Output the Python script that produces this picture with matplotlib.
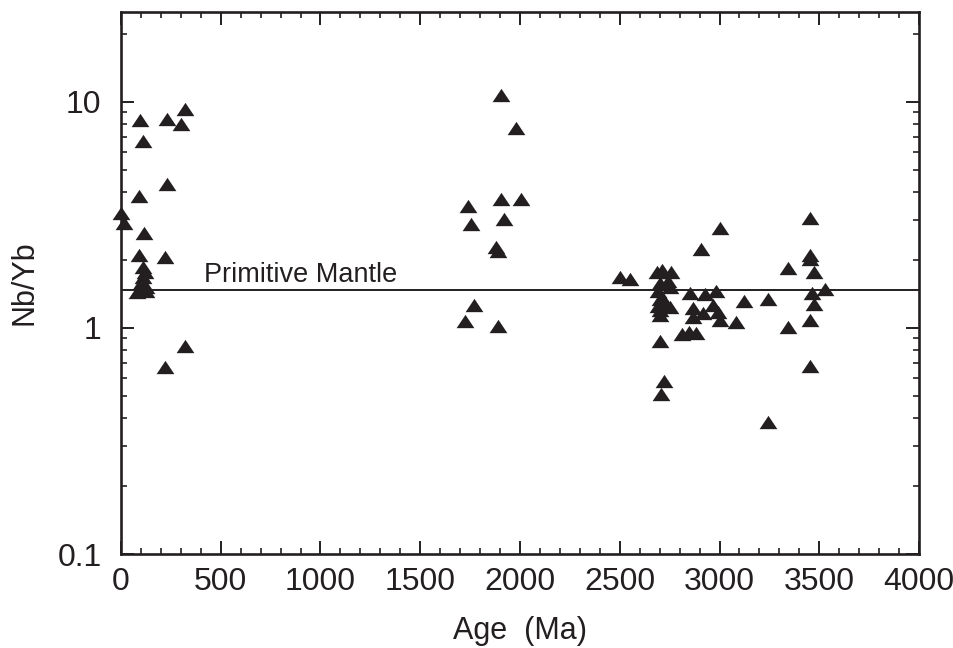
import matplotlib
matplotlib.use("Agg")
from matplotlib import pyplot as plt
from matplotlib.ticker import MultipleLocator, LogLocator, FixedFormatter, FixedLocator

# Phanerozoic samples
young_age = [95, 229, 321, 299, 109, 229, 90, 0, 15, 115, 92, 221,
             110, 120, 110, 100, 125, 80, 125, 321, 221]
young_ratio = [8.3, 8.4, 9.3, 8.0, 6.7, 4.32, 3.85, 3.24, 2.92, 2.64, 2.10, 2.07,
               1.86, 1.77, 1.68, 1.58, 1.52, 1.44, 1.46, 0.83, 0.67]

# Proterozoic samples
mid_age = [1905, 1980, 1741, 1905, 2005, 1753, 1922, 1880, 1890, 1770, 1725, 1888]
mid_ratio = [10.7, 7.65, 3.48, 3.72, 3.71, 2.89, 3.03, 2.28, 2.20, 1.26, 1.07, 1.02]

# Archean samples
old_age = [3003, 2906, 2502, 2552,
           2685, 2710, 2755, 2740,
           2702, 2752, 2694, 2702, 2725, 2752, 2690, 2702, 2702,
           2852, 2928, 2983, 3125,
           2869, 2969, 2994, 2919, 2869, 3003, 3083,
           2810, 2845, 2880,
           2702, 2724, 2705,
           3454, 3454, 3454, 3342, 3474, 3529, 3462, 3474, 3245, 3342, 3454,
           3454, 3245]
old_ratio = [2.76, 2.23, 1.68, 1.65,
             1.77, 1.80, 1.77, 1.62,
             1.58, 1.52, 1.45, 1.35, 1.30, 1.24, 1.25, 1.20, 1.14,
             1.43, 1.41, 1.46, 1.31,
             1.23, 1.26, 1.18, 1.16, 1.12, 1.08, 1.06,
             0.94, 0.96, 0.95,
             0.88, 0.58, 0.51,
             3.06, 2.10, 2.02, 1.84, 1.76, 1.48, 1.43, 1.28, 1.34, 1.01, 1.08,
             0.68, 0.385]

primitive_mantle = 1.47

plt.rcParams["font.family"] = ["Liberation Sans", "DejaVu Sans"]

ages = young_age + mid_age + old_age
ratios = young_ratio + mid_ratio + old_ratio

fig = plt.figure(figsize=(9.54, 6.48), dpi=100)
ax = fig.add_axes([121 / 954, 1 - 554 / 648, 798 / 954, 542 / 648])

tri = [(-1, -0.75), (1, -0.75), (0, 0.75), (-1, -0.75)]
ax.plot(ages, ratios, linestyle="none", marker=tri, markersize=12.8,
        color="#231f20", markeredgewidth=0, clip_on=False, zorder=3)

ax.axhline(primitive_mantle, color="#231f20", linewidth=1.4, zorder=2)
ax.text(416, 1.6, "Primitive Mantle", fontsize=19.5, color="#231f20",
        ha="left", va="baseline")

ax.set_yscale("log")
ax.set_xlim(0, 4000)
ax.set_ylim(0.1, 25)

ax.xaxis.set_major_locator(MultipleLocator(500))
ax.xaxis.set_minor_locator(MultipleLocator(100))
ax.yaxis.set_major_locator(FixedLocator([0.1, 1, 10]))
ax.yaxis.set_major_formatter(FixedFormatter(["0.1", "1", "10"]))
ax.yaxis.set_minor_locator(LogLocator(base=10, subs=range(2, 10)))
ax.yaxis.set_minor_formatter(FixedFormatter([]))

ax.tick_params(which="both", direction="in", top=True, right=True,
               color="#231f20", labelcolor="#231f20", labelsize=23)
ax.tick_params(which="major", length=9.5, width=1.4)
ax.tick_params(which="minor", length=4.5, width=1.2)
ax.tick_params(axis="x", which="major", pad=9)
ax.tick_params(axis="y", which="major", pad=14)

for spine in ax.spines.values():
    spine.set_linewidth(1.9)
    spine.set_color("#231f20")

ax.set_xlabel("Age  (Ma)", fontsize=22, color="#231f20", labelpad=14)
ax.set_ylabel("Nb/Yb", fontsize=22, color="#231f20", labelpad=13)

fig.savefig("out.png", dpi=100)
